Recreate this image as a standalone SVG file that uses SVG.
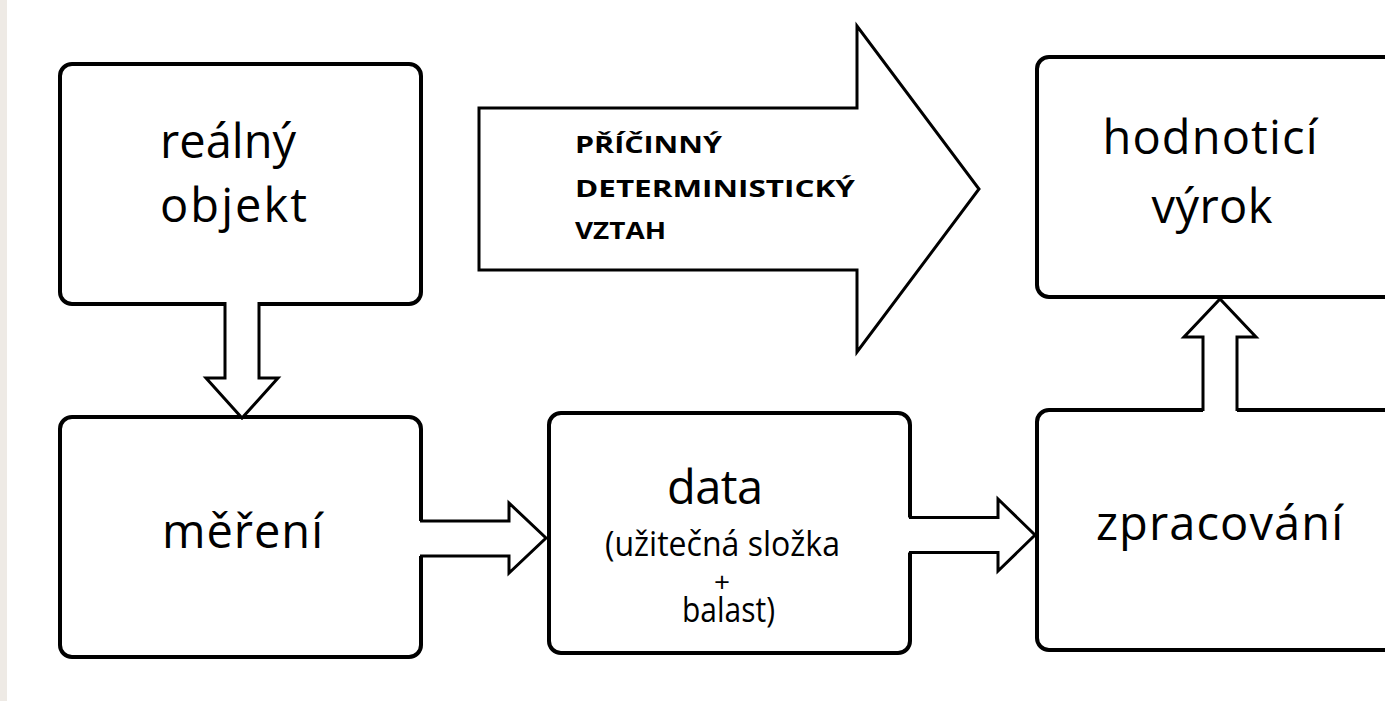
<svg xmlns="http://www.w3.org/2000/svg" width="1385" height="701" viewBox="0 0 1385 701">
<style>
.box{fill:#fff;stroke:#000;stroke-width:4}
.line{fill:none;stroke:#000;stroke-width:3;stroke-linejoin:miter}
.cover{fill:#fff;stroke:none}
.t{font-family:"Open Sans","Noto Sans",sans-serif;font-size:47px;fill:#000;text-anchor:middle}
.s{font-family:"Open Sans","Noto Sans",sans-serif;font-size:34px;fill:#000;text-anchor:middle}
.p{font-family:"Open Sans","Noto Sans",sans-serif;font-size:28px;fill:#000;text-anchor:middle}
.b{font-family:"Open Sans","Noto Sans",sans-serif;font-size:22.5px;font-weight:700;fill:#000}
</style>
<rect x="0" y="0" width="1385" height="701" fill="#fff"/>
<rect x="0" y="0" width="7" height="701" fill="#eeeae5"/>

<g id="node-realny-objekt">
<rect class="box" x="60" y="64" width="361" height="240" rx="12"/>
<text class="t" x="228" y="158" textLength="136">reálný</text>
<text class="t" x="233.5" y="222" textLength="147">objekt</text>
</g>

<g id="node-mereni">
<rect class="box" x="60" y="417" width="361" height="240" rx="12"/>
<text class="t" x="242.5" y="548" textLength="161">měření</text>
</g>

<g id="node-data">
<rect class="box" x="549" y="413" width="361" height="240" rx="12"/>
<text class="t" x="715" y="504" textLength="96">data</text>
<text class="s" x="722.5" y="556" textLength="235" lengthAdjust="spacingAndGlyphs">(užitečná složka</text>
<text class="p" x="722" y="592">+</text>
<text class="s" x="728.5" y="622" textLength="93" lengthAdjust="spacingAndGlyphs">balast)</text>
</g>

<g id="node-zpracovani">
<rect class="box" x="1037" y="410" width="400" height="240" rx="12"/>
<text class="t" x="1219.5" y="540" textLength="247">zpracování</text>
</g>

<g id="node-hodnotici-vyrok">
<rect class="box" x="1037" y="57" width="400" height="240" rx="12"/>
<text class="t" x="1210" y="154" textLength="215">hodnoticí</text>
<text class="t" x="1212" y="223" textLength="121">výrok</text>
</g>

<g id="node-pricinny-vztah">
<polygon points="479,108 857,108 857,26 979,189 857,352 857,270 479,270" fill="#fff" stroke="#000" stroke-width="3"/>
<text class="b" x="575" y="153" textLength="147" lengthAdjust="spacingAndGlyphs">PŘÍČINNÝ</text>
<text class="b" x="575" y="197" textLength="280" lengthAdjust="spacingAndGlyphs">DETERMINISTICKÝ</text>
<text class="b" x="575" y="239" textLength="91" lengthAdjust="spacingAndGlyphs">VZTAH</text>
</g>

<g id="connectors">
<polygon class="cover" points="225,300 225,378 206,378 242,418 278,378 259,378 259,300"/>
<polyline class="line" points="225,302 225,378 206,378 242,418 278,378 259,378 259,302"/>

<polygon class="cover" points="418,521 509,521 509,503 546,538 509,573 509,556 418,556"/>
<polyline class="line" points="420,521 509,521 509,503 546,538 509,573 509,556 420,556"/>

<polygon class="cover" points="907,517.5 998,517.5 998,499 1035,535 998,571 998,552.5 907,552.5"/>
<polyline class="line" points="909,517.5 998,517.5 998,499 1035,535 998,571 998,552.5 909,552.5"/>

<polygon class="cover" points="1203,413 1203,337 1184,337 1220,299 1256,337 1237,337 1237,413"/>
<polyline class="line" points="1203,411 1203,337 1184,337 1220,299 1256,337 1237,337 1237,411"/>
</g>
</svg>
